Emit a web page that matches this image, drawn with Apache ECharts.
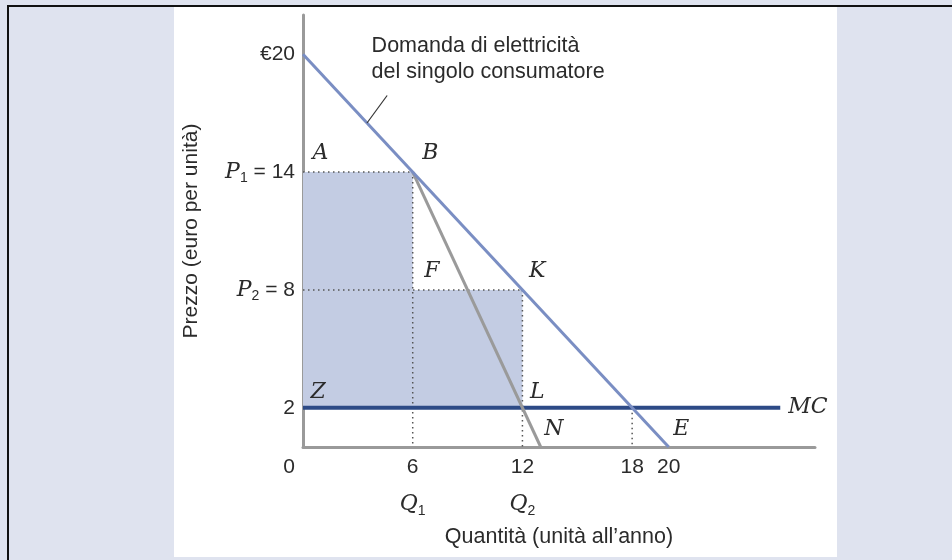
<!DOCTYPE html>
<html>
<head>
<meta charset="utf-8">
<script src="https://cdn.jsdelivr.net/npm/echarts@6/dist/echarts.min.js"></script>
<style>
  html, body { margin: 0; padding: 0; }
  body { width: 952px; height: 560px; background: #dfe3ef; position: relative; overflow: hidden; }
  #frame { position: absolute; left: 7px; top: 5px; right: 0; bottom: 0; border-left: 2px solid #111; border-top: 2px solid #111; }
  #panel { position: absolute; left: 174px; top: 7px; width: 663px; height: 550px; background: #ffffff; }
  #chart { position: absolute; left: 0; top: 0; width: 952px; height: 560px; }
</style>
</head>
<body>
<div id="frame"></div>
<div id="panel"></div>
<div id="chart"></div>
<script>
// Block pricing of electricity: demand, marginal revenue of the second block, marginal cost
const quantityTicks = [0, 6, 12, 18, 20];
const priceTicks = [2, 8, 14, 20];

const demand = [[0, 20], [20, 0]];
const marginalRevenue = [[6, 14], [13, 0]];
const marginalCost = [[0, 2], [26.1, 2]];
const surplusArea = [[0, 2], [12, 2], [12, 8], [6, 8], [6, 14], [0, 14]];
const guideLines = [
  [[0, 14], [6, 14]],
  [[6, 14], [6, 0]],
  [[0, 8], [12, 8]],
  [[12, 8], [12, 0]],
  [[18, 2], [18, 0]]
];
const pointNames = ['A', 'B', 'F', 'K', 'Z', 'L', 'N', 'E'];
const pointQ = [0, 6, 6, 12, 0, 12, 13, 20];
const pointP = [14, 14, 8, 8, 2, 2, 0, 0];
const demandNote = [[3.5, 16.5], [4.6, 17.9]];
const demandText = 'Domanda di elettricità\ndel singolo consumatore';

const SANS = '"Liberation Sans", Arial, sans-serif';
const SERIF = '"DejaVu Serif", "Liberation Serif", serif';
const TXT = '#2b2b2b';
const HIDDEN = 'rgba(0,0,0,0)';

const chart = echarts.init(document.getElementById('chart'), null, { renderer: 'canvas' });

const letterOffsets = { A: [10, -18], B: [10, -18], F: [12, -18], K: [7, -18], Z: [8, -15], L: [8, -15], N: [4, -17], E: [5, -17] };

const guideSeries = guideLines.map(seg => ({
  type: 'line',
  data: seg,
  symbol: 'none',
  silent: true,
  z: 3,
  lineStyle: { color: '#555', width: 1.5, type: [1.5, 3.5] }
}));

const xLabel = v => {
  if (v === 0) return '{z|0}';
  if (v === 6) return '{n|6}\n{q|Q}{s|1}';
  if (v === 12) return '{n|12}\n{q|Q}{s|2}';
  return '{n|' + v + '}';
};
const yLabel = v => {
  if (v === 20) return '{n|€20}';
  if (v === 14) return '{p|P}{s|1}{n| = 14}';
  if (v === 8) return '{p|P}{s|2}{n| = 8}';
  return '{n|' + v + '}';
};

chart.setOption({
  backgroundColor: 'transparent',
  animation: false,
  grid: { left: 303, right: 137, top: 15, bottom: 113 },
  xAxis: {
    type: 'value', min: 0, max: 28,
    name: 'Quantità (unità all’anno)',
    nameLocation: 'middle', nameGap: 79,
    nameTextStyle: { fontFamily: SANS, fontSize: 21.5, color: TXT },
    axisLine: { show: true, onZero: false, lineStyle: { color: '#9a9a9a', width: 3 } },
    axisTick: { show: false },
    splitLine: { show: false },
    axisLabel: {
      customValues: quantityTicks,
      formatter: xLabel,
      margin: 9,
      hideOverlap: false,
      rich: {
        z: { fontFamily: SANS, fontSize: 21, color: TXT, lineHeight: 22, padding: [0, 28, 0, 0] },
        n: { fontFamily: SANS, fontSize: 21, color: TXT, lineHeight: 22 },
        q: { fontFamily: SERIF, fontStyle: 'italic', fontSize: 22, color: TXT, lineHeight: 52 },
        s: { fontFamily: SANS, fontSize: 14, color: TXT, lineHeight: 16, padding: [15, 0, 0, 0], verticalAlign: 'middle' }
      }
    }
  },
  yAxis: {
    type: 'value', min: 0, max: 22,
    name: 'Prezzo (euro per unità)',
    nameLocation: 'middle', nameGap: 101,
    nameTextStyle: { fontFamily: SANS, fontSize: 21, color: TXT },
    axisLine: { show: true, onZero: false, lineStyle: { color: '#9a9a9a', width: 3 } },
    axisTick: { show: false },
    splitLine: { show: false },
    axisLabel: {
      customValues: priceTicks,
      formatter: yLabel,
      margin: 8,
      hideOverlap: false,
      rich: {
        n: { fontFamily: SANS, fontSize: 21, color: TXT, lineHeight: 22 },
        p: { fontFamily: SERIF, fontStyle: 'italic', fontSize: 22, color: TXT, lineHeight: 22 },
        s: { fontFamily: SANS, fontSize: 14, color: TXT, lineHeight: 16, padding: [12, 0, 0, 0], verticalAlign: 'middle' }
      }
    }
  },
  series: [
    {
      // shaded payment area between MC and the two price blocks
      type: 'custom',
      silent: true,
      z: 1,
      data: [surplusArea[0]],
      renderItem: (params, api) => ({
        type: 'polygon',
        shape: { points: surplusArea.map(p => api.coord(p)) },
        style: { fill: '#c3cce3' }
      })
    },
    ...guideSeries,
    {
      // marginal cost
      type: 'line', data: marginalCost, symbol: 'none', silent: true, z: 5,
      lineStyle: { color: '#2d4a86', width: 4 },
      endLabel: {
        show: true, formatter: 'MC', distance: 8,
        fontFamily: SERIF, fontStyle: 'italic', fontSize: 22, color: TXT
      }
    },
    {
      // marginal revenue of the second block
      type: 'line', data: marginalRevenue, symbol: 'none', silent: true, z: 6,
      lineStyle: { color: '#9a9a9a', width: 3 }
    },
    {
      // individual demand
      type: 'line', data: demand, symbol: 'none', silent: true, z: 7,
      lineStyle: { color: '#7a8ec3', width: 3 }
    },
    {
      // pointer from the caption to the demand line
      type: 'line', data: demandNote, symbol: 'none', silent: true, z: 8,
      lineStyle: { color: '#333', width: 1.2 }
    },
    {
      type: 'scatter', silent: true, z: 9,
      symbolSize: 1,
      itemStyle: { color: HIDDEN, opacity: 1 },
      data: [{
        value: demandNote[1],
        label: {
          show: true, formatter: demandText, position: [-15, -62],
          align: 'left', verticalAlign: 'top',
          fontFamily: SANS, fontSize: 21.5, lineHeight: 26, color: TXT
        }
      }]
    },
    {
      type: 'scatter', silent: true, z: 9,
      symbolSize: 1,
      itemStyle: { color: HIDDEN, opacity: 1 },
      label: {
        show: true, formatter: '{b}', align: 'left', verticalAlign: 'middle',
        fontFamily: SERIF, fontStyle: 'italic', fontSize: 22, color: TXT
      },
      data: pointNames.map((n, i) => ({
        name: n,
        value: [pointQ[i], pointP[i]],
        label: { position: letterOffsets[n] }
      }))
    }
  ]
});
</script>
</body>
</html>
